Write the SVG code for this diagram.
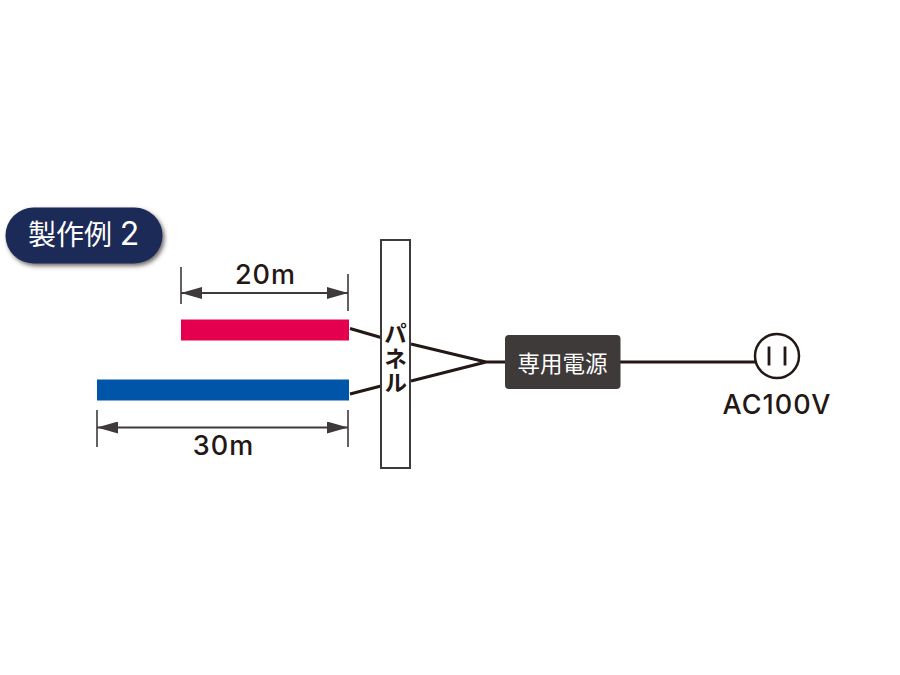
<svg xmlns="http://www.w3.org/2000/svg" width="900" height="675" viewBox="0 0 900 675">
<defs>
<filter id="sh" x="-10%" y="-20%" width="125%" height="150%"><feDropShadow dx="2" dy="2.5" stdDeviation="2" flood-color="#3e3a39" flood-opacity="0.75"/></filter>
<marker id="ah" markerUnits="userSpaceOnUse" markerWidth="22" markerHeight="12" refX="21" refY="6" orient="auto-start-reverse"><path d="M0 0L21 6L0 12Z" fill="#3e3a39"/></marker>
</defs>
<style>
.t{font-family:"Noto Sans CJK JP","Liberation Sans",sans-serif}
.l{font-family:Inter,"Liberation Sans",Arial,sans-serif;font-weight:500;fill:#231815;font-size:27px;letter-spacing:1px;text-anchor:middle}
.w{fill:none;stroke:#231815;stroke-width:3}
.d{fill:none;stroke:#3e3a39;stroke-width:1.6}
.da{fill:none;stroke:#3e3a39;stroke-width:2}
</style>
<rect width="900" height="675" fill="#fff"/>
<g id="connectors">
<path class="w" d="M350 328.500L381 337.500M411 344L486 362L411 381M350 394L381 386M486 362H506M620 362H755"/>
<path class="d" d="M181 267V304M348 274V311M97 410V447M348 410V447"/>
<path class="da" d="M181 293H348" marker-start="url(#ah)" marker-end="url(#ah)"/>
<path class="da" d="M97 427.500H348" marker-start="url(#ah)" marker-end="url(#ah)"/>
</g>
<g id="badge">
<rect x="5.500" y="207.500" width="157" height="56" rx="28" fill="#1c2b59" filter="url(#sh)"/>
<text class="t" x="28" y="245" font-size="28" fill="#fff">製作例</text>
<text x="129.500" y="245" font-family="Inter,'Liberation Sans',sans-serif" font-size="32" fill="#fff" text-anchor="middle">2</text>
</g>
<g id="cable-20m">
<rect x="181" y="319.500" width="168" height="21" fill="#e5004f"/>
<text class="l" x="265.500" y="283.500">20m</text>
</g>
<g id="cable-30m">
<rect x="97" y="379.500" width="252" height="21" fill="#0055a8"/>
<text class="l" x="223.500" y="455">30m</text>
</g>
<g id="panel">
<rect x="381" y="240" width="29" height="228" fill="#fff" stroke="#3e3a39" stroke-width="2"/>
<text class="t" x="395.500" y="322" font-size="23" font-weight="700" fill="#231815" writing-mode="vertical-rl" letter-spacing="1.500">パネル</text>
</g>
<g id="power-supply">
<rect x="505" y="335" width="115.500" height="54" rx="4" fill="#3e3a39"/>
<text class="t" x="562.500" y="372" font-size="22.500" fill="#fff" text-anchor="middle">専用電源</text>
</g>
<g id="outlet">
<circle cx="777" cy="356" r="22" fill="#fff" stroke="#231815" stroke-width="2.500"/>
<path d="M769 346.500V365.500M785 346.500V365.500" fill="none" stroke="#231815" stroke-width="2.800"/>
<text class="l" x="777" y="414">AC100V</text>
</g>
</svg>
